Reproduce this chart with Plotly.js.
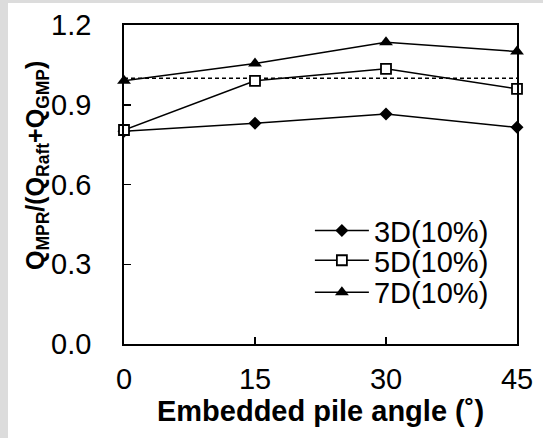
<!DOCTYPE html>
<html>
<head>
<meta charset="utf-8">
<script src="https://cdn.plot.ly/plotly-3.0.1.min.js"></script>
<style>
  html, body { margin: 0; padding: 0; background: #dcdcdc; width: 543px; height: 438px; overflow: hidden; }
  #chart { position: absolute; left: 8px; top: 3px; width: 535px; height: 435px; background: #ffffff; }
</style>
</head>
<body>
<div id="chart"></div>
<script>
const angles = [0, 15, 30, 45];
const series3D = [0.80, 0.83, 0.865, 0.815];
const series5D = [0.805, 0.99, 1.035, 0.96];
const series7D = [0.99, 1.055, 1.135, 1.10];
const refX = [0, 45];
const refY = [1.0, 1.0];
const seriesNames = ['3D(10%)', '5D(10%)', '7D(10%)'];
const yTickVals = [0, 0.3, 0.6, 0.9, 1.2];
const yTickText = ['0.0', '0.3', '0.6', '0.9', '1.2'];
const xTickVals = [0, 15, 30, 45];

const FONT = 'Liberation Sans, Arial, sans-serif';
const FS = 29;

const traces = [
  {
    x: refX, y: refY, mode: 'lines', showlegend: false, hoverinfo: 'skip',
    line: { color: '#000', width: 1.5, dash: '4px,3px' }
  },
  {
    x: angles, y: series3D, name: seriesNames[0], mode: 'lines+markers', legend: 'legend',
    cliponaxis: false,
    line: { color: '#000', width: 1.5 },
    marker: { symbol: 'diamond', size: 10, color: '#000' }
  },
  {
    x: angles, y: series5D, name: seriesNames[1], mode: 'lines+markers', legend: 'legend2',
    cliponaxis: false,
    line: { color: '#000', width: 1.5 },
    marker: { symbol: 'square', size: 10, color: '#fff', line: { color: '#000', width: 1.8 } }
  },
  {
    x: angles, y: series7D, name: seriesNames[2], mode: 'lines+markers', legend: 'legend3',
    cliponaxis: false,
    line: { color: '#000', width: 1.5 },
    marker: { symbol: 'triangle-up', size: 12, color: '#000' }
  }
];

const legendBase = {
  xref: 'paper', yref: 'paper', xanchor: 'left', yanchor: 'middle',
  bgcolor: 'rgba(0,0,0,0)', borderwidth: 0,
  font: { family: FONT, size: FS, color: '#000' },
  itemwidth: 54
};

// y tick labels placed through the y scale (offset from the axis)
const yLabelAnnotations = yTickVals.map((v, i) => ({
  text: yTickText[i], xref: 'paper', yref: 'y', x: (93 - 124) / 393, y: v,
  xanchor: 'right', yanchor: 'middle', showarrow: false,
  font: { family: FONT, size: FS, color: '#000' }
}));

const layout = {
  width: 535, height: 435,
  margin: { l: 116, r: 26, t: 22, b: 94 },
  paper_bgcolor: '#ffffff', plot_bgcolor: '#ffffff',
  font: { family: FONT, color: '#000' },
  showlegend: true,
  xaxis: {
    range: [0, 45], tickvals: xTickVals, ticks: 'inside', ticklen: 7, tickwidth: 1.5, tickcolor: '#000',
    showline: true, linecolor: '#000', linewidth: 2, mirror: true,
    showgrid: false, zeroline: false,
    tickfont: { family: FONT, size: FS, color: '#000' },
    ticklabelstandoff: 8,
    title: { text: 'Embedded pile angle (˚)', font: { family: FONT, size: FS, color: '#000', weight: 'bold' }, standoff: 4 }
  },
  yaxis: {
    range: [0, 1.2], tickvals: yTickVals, showticklabels: false,
    ticks: 'inside', ticklen: 7, tickwidth: 1.5, tickcolor: '#000',
    showline: true, linecolor: '#000', linewidth: 2, mirror: true,
    showgrid: false, zeroline: false
  },
  legend: Object.assign({}, legendBase, { x: 0.473, y: 0.355 }),
  legend2: Object.assign({}, legendBase, { x: 0.473, y: 0.262 }),
  legend3: Object.assign({}, legendBase, { x: 0.473, y: 0.162 }),
  annotations: yLabelAnnotations.concat([{
    text: 'Q<sub>MPR</sub>/(Q<sub>Raft</sub>+Q<sub>GMP</sub>)',
    xref: 'paper', yref: 'paper', x: (37 - 124) / 393, y: (344 - 166) / 319,
    xanchor: 'center', yanchor: 'middle', textangle: -90, showarrow: false,
    font: { family: FONT, size: 25, color: '#000', weight: 'bold' }
  }])
};

Plotly.newPlot('chart', traces, layout, { displayModeBar: false, staticPlot: true });
</script>
</body>
</html>
